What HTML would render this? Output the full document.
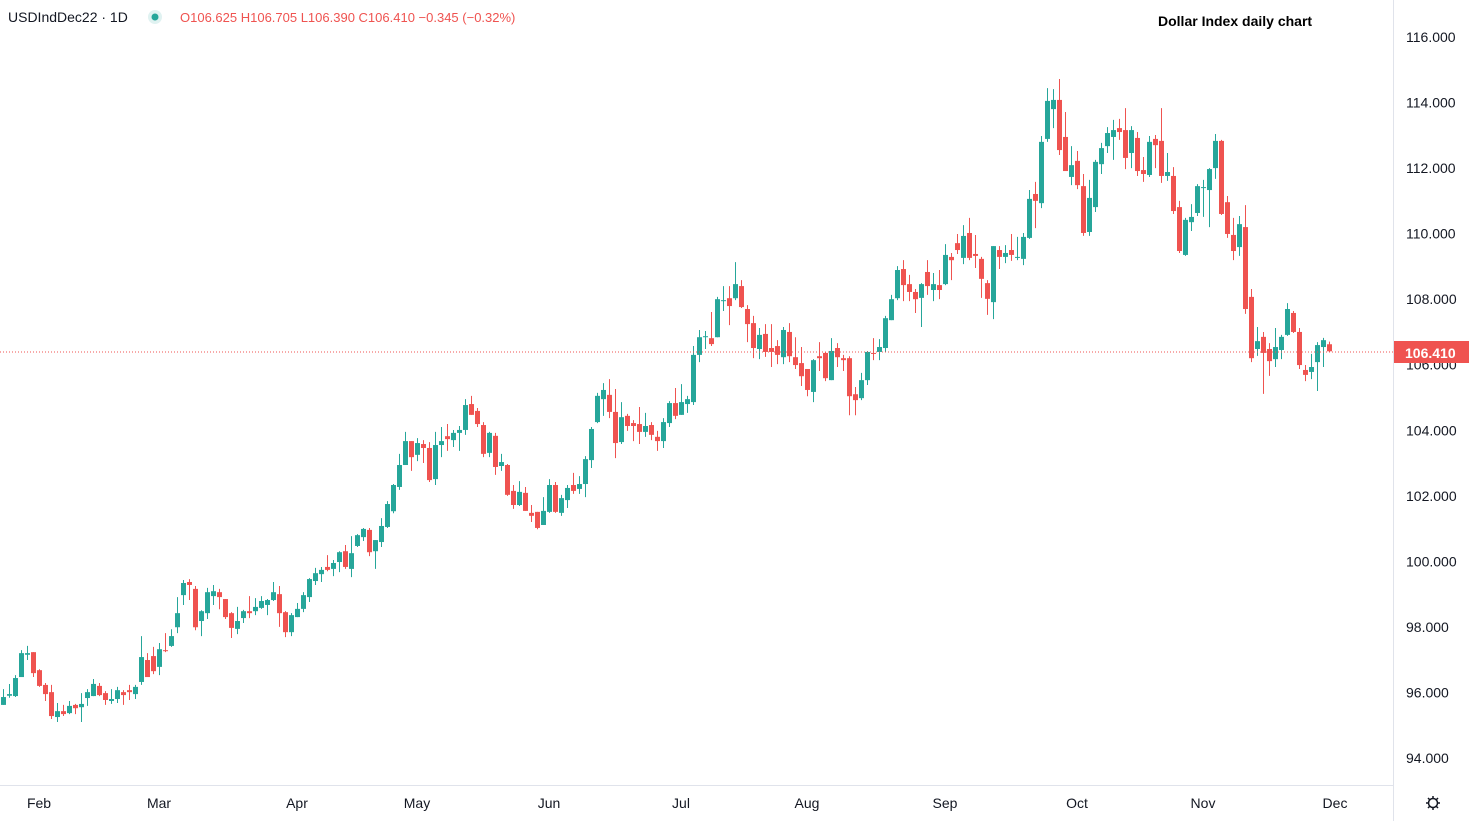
<!DOCTYPE html>
<html><head><meta charset="utf-8"><style>
html,body{margin:0;padding:0;background:#fff;width:1469px;height:821px;overflow:hidden;font-family:"Liberation Sans",sans-serif}
svg{display:block}
</style></head><body>
<svg id="chart" width="1469" height="821" xmlns="http://www.w3.org/2000/svg">
<rect width="1469" height="821" fill="#fff"/>
<g id="candles"></g>
<line x1="0" y1="352" x2="1393" y2="352" stroke="#ef5350" stroke-dasharray="1,2"/>
<line x1="1393.5" y1="0" x2="1393.5" y2="821" stroke="#e0e3eb"/>
<line x1="0" y1="785.5" x2="1393" y2="785.5" stroke="#e0e3eb"/>
<g id="yaxis"></g>
<g id="xaxis"></g>
<rect x="1394" y="341" width="75" height="22" fill="#ef5350"/>
<text x="1405" y="358" fill="#fff" font-size="14" font-weight="bold">106.410</text>
<text x="8" y="22" fill="#131722" font-size="14">USDIndDec22 · 1D</text>
<circle cx="155" cy="17" r="7" fill="#e0f2f1"/>
<circle cx="155" cy="17" r="3.5" fill="#26a69a"/>
<text x="180" y="22" fill="#ef5350" font-size="13">O106.625 H106.705 L106.390 C106.410 −0.345 (−0.32%)</text>
<text x="1158" y="26" fill="#000" font-size="14" font-weight="bold">Dollar Index daily chart</text>
<g transform="translate(1433,803)">
<circle r="4.5" fill="none" stroke="#131722" stroke-width="1.5"/>
<g stroke="#131722" stroke-width="1.5"><line x1="0" y1="-7" x2="0" y2="-5"/><line x1="0" y1="5" x2="0" y2="7"/><line x1="-7" y1="0" x2="-5" y2="0"/><line x1="5" y1="0" x2="7" y2="0"/><line x1="-5" y1="-5" x2="-3.5" y2="-3.5"/><line x1="3.5" y1="3.5" x2="5" y2="5"/><line x1="-5" y1="5" x2="-3.5" y2="3.5"/><line x1="3.5" y1="-3.5" x2="5" y2="-5"/></g>
</g>
</svg>
<script>
const opens=[95.62,95.90,95.89,96.47,97.15,97.23,96.68,96.23,96.01,95.25,95.43,95.37,95.62,95.55,95.83,95.89,96.20,95.98,95.74,95.80,96.01,96.07,95.95,96.32,96.99,97.11,96.78,97.29,97.42,97.99,98.97,99.37,99.16,98.18,98.42,98.94,99.06,98.85,98.42,97.94,98.27,98.48,98.48,98.58,98.67,98.82,99.00,98.45,97.84,98.30,98.55,98.91,99.40,99.61,99.83,99.77,99.98,100.31,99.77,100.47,100.74,100.96,100.31,100.59,101.05,101.53,102.27,102.94,103.67,103.25,103.58,103.46,102.51,103.55,103.82,103.70,103.92,104.01,104.80,104.59,104.16,103.31,103.83,102.91,102.94,102.15,101.72,102.09,101.48,101.51,101.11,101.51,102.33,101.48,101.87,102.33,102.21,102.36,103.09,104.25,104.95,105.08,104.56,103.64,104.44,104.22,104.19,103.95,104.16,103.80,103.67,104.22,104.83,104.47,104.80,104.86,106.30,106.84,106.81,106.84,107.94,108.03,108.03,108.40,107.70,107.27,106.48,106.94,106.51,106.57,106.23,107.00,106.23,106.05,105.87,105.17,106.26,106.36,105.53,106.51,106.20,106.20,105.10,104.98,105.53,106.36,106.39,106.51,107.36,108.03,108.92,108.46,108.22,108.04,108.83,108.28,108.43,108.46,109.29,109.71,109.26,110.02,109.38,109.23,108.49,107.91,109.50,109.29,109.50,109.26,109.23,109.87,111.21,110.93,112.89,113.80,114.08,112.95,111.73,112.22,111.45,110.05,110.81,112.12,112.67,112.95,113.22,113.16,112.46,112.92,111.94,111.79,112.89,112.83,111.76,111.76,110.81,109.35,110.35,110.63,111.39,111.33,112.00,112.83,110.96,109.96,109.59,110.20,108.07,106.48,106.85,106.48,106.17,106.45,106.91,107.58,107.00,105.84,105.78,106.08,106.54,106.625];
const highs=[96.10,96.26,96.53,97.29,97.42,97.23,96.71,96.29,96.23,95.68,95.62,95.74,95.65,95.98,96.10,96.41,96.29,96.04,96.10,96.17,96.07,96.23,96.23,97.72,97.20,97.39,97.51,97.81,97.93,98.91,99.43,99.46,99.25,98.51,99.19,99.28,99.16,98.85,98.45,98.61,98.52,98.94,98.88,98.94,98.85,99.37,99.25,98.48,98.42,98.73,99.06,99.49,99.80,99.83,100.19,100.04,100.31,100.50,100.77,100.83,101.02,101.02,100.65,101.32,101.84,102.36,103.28,103.95,103.67,103.76,103.70,103.64,103.95,104.10,104.19,104.01,104.13,104.95,105.05,104.68,104.25,103.95,103.92,103.28,102.97,102.33,102.45,102.27,101.72,101.51,101.96,102.51,102.42,102.03,102.33,102.70,102.60,103.21,104.10,105.14,105.44,105.56,105.26,104.86,104.50,104.31,104.71,104.53,104.25,103.98,104.37,104.89,105.29,105.41,105.05,106.57,107.06,107.03,107.61,108.07,108.40,108.40,109.13,108.58,107.82,107.49,107.12,107.24,107.24,106.75,107.15,107.27,106.84,106.54,105.87,106.17,106.69,106.39,106.81,106.66,106.30,106.26,105.32,105.75,106.42,106.81,106.78,107.49,108.13,109.01,109.19,108.74,108.31,108.49,109.19,108.80,108.89,109.68,109.41,109.99,110.26,110.48,109.96,109.29,108.58,109.62,109.62,109.65,109.99,109.90,110.02,111.33,111.58,112.98,114.44,114.41,114.72,113.71,112.67,112.52,111.82,111.64,112.25,112.77,113.25,113.47,113.50,113.83,113.28,113.10,112.34,112.98,113.01,113.83,112.46,112.03,111.00,110.48,110.90,111.51,111.64,112.00,113.04,112.86,111.15,110.48,110.54,110.87,108.31,107.15,107.00,106.66,107.12,106.91,107.88,107.64,107.12,105.99,106.33,106.69,106.82,106.705];
const lows=[95.62,95.84,95.86,96.47,96.99,96.47,96.17,95.74,95.19,95.10,95.28,95.34,95.34,95.10,95.59,95.89,95.89,95.62,95.65,95.68,95.62,95.77,95.80,96.23,96.47,96.56,96.53,97.23,97.39,97.81,98.67,98.82,97.90,97.72,98.24,98.67,98.54,98.24,97.66,97.78,98.12,98.27,98.36,98.55,98.36,98.79,98.00,97.69,97.72,98.30,98.45,98.76,99.28,99.37,99.70,99.55,99.67,99.77,99.52,100.44,100.62,100.16,99.77,100.44,101.02,101.47,102.18,102.94,102.76,103.06,103.00,102.42,102.33,103.18,103.37,103.49,103.37,103.86,104.47,104.10,103.18,103.18,102.64,102.76,102.00,101.60,101.69,101.54,101.20,100.98,101.11,101.48,101.48,101.39,101.63,102.06,102.06,101.96,102.85,104.22,104.44,104.37,103.15,103.58,103.98,103.67,103.58,103.80,103.70,103.37,103.46,104.10,104.34,104.47,104.53,104.77,106.08,106.48,106.57,106.84,107.64,107.21,107.97,107.73,106.69,106.20,106.17,106.24,105.93,106.02,106.02,106.08,105.87,105.35,105.04,104.86,105.81,105.50,105.53,105.93,105.81,104.46,104.46,104.92,105.38,106.14,106.14,106.39,107.36,107.97,107.94,107.94,107.58,107.15,108.13,107.94,108.00,108.43,108.58,109.38,109.07,109.19,108.95,108.04,107.52,107.39,108.92,109.10,109.17,109.19,109.04,109.84,110.17,110.78,112.80,113.22,112.40,111.91,111.48,111.36,109.93,109.93,110.66,111.82,112.46,112.25,112.86,111.97,112.00,111.76,111.58,111.73,112.00,111.55,111.61,110.60,109.41,109.32,110.08,110.54,110.51,110.20,111.67,110.57,109.87,109.19,109.32,107.55,106.08,106.27,105.11,105.66,105.93,106.17,106.88,106.97,105.87,105.50,105.56,105.20,105.93,106.390];
const closes=[95.86,95.95,96.44,97.20,97.20,96.59,96.20,95.95,95.28,95.43,95.34,95.59,95.52,95.65,96.01,96.26,95.92,95.77,95.80,96.07,95.92,96.01,96.17,97.08,96.47,96.65,97.32,97.26,97.72,98.42,99.34,99.28,97.99,98.48,99.06,99.09,98.91,98.30,97.97,98.18,98.48,98.42,98.61,98.79,98.82,99.06,98.42,97.84,98.36,98.55,98.97,99.46,99.64,99.74,99.74,99.95,100.28,99.83,100.25,100.80,100.99,100.28,100.65,101.08,101.75,102.33,102.94,103.67,103.18,103.61,103.46,102.48,103.55,103.67,103.73,103.92,104.01,104.77,104.47,104.19,103.28,103.92,102.88,103.03,102.03,101.72,102.12,101.54,101.39,101.02,101.54,102.33,101.51,101.93,102.24,102.15,102.36,103.12,104.04,105.05,105.23,104.56,103.61,104.40,104.13,104.13,103.95,104.13,103.86,103.67,104.25,104.83,104.44,104.86,104.95,106.30,106.84,106.87,106.63,108.00,107.97,107.79,108.46,107.76,107.24,106.51,106.91,106.39,106.39,106.30,107.06,106.26,105.99,105.65,105.23,106.14,106.20,105.59,106.42,106.23,106.14,105.04,104.92,105.53,106.39,106.33,106.54,107.42,108.00,108.89,108.43,108.22,108.00,108.46,108.40,108.46,108.28,109.35,109.19,109.50,109.93,109.26,109.32,108.62,108.01,109.62,109.29,109.41,109.35,109.29,109.90,111.06,111.00,112.80,114.05,114.08,112.55,111.91,112.09,111.48,110.02,111.09,112.19,112.61,113.07,113.16,113.10,112.31,113.16,111.91,111.82,112.80,112.70,111.76,111.88,110.69,109.47,110.42,110.51,111.45,111.42,111.97,112.83,110.60,109.99,109.47,110.29,107.70,106.20,106.72,106.36,106.11,106.54,106.85,107.70,107.00,105.99,105.69,105.93,106.60,106.75,106.410];
const priceTicks=[94,96,98,100,102,104,106,108,110,112,114,116];
const monthLabels=["Feb","Mar","Apr","May","Jun","Jul","Aug","Sep","Oct","Nov","Dec"];
const monthIndex=[6,26,49,69,91,113,134,157,179,200,222];

const NS="http://www.w3.org/2000/svg";
function yOf(v){return 37+(116-v)*32.773;}
function xOf(i){return 3+6*i;}
const cg=document.getElementById('candles');
for(let i=0;i<closes.length;i++){
  const up=closes[i]>=opens[i];
  const col=up?'#26a69a':'#ef5350';
  const x=xOf(i);
  const w=document.createElementNS(NS,'line');
  w.setAttribute('x1',x+0.5);w.setAttribute('x2',x+0.5);
  w.setAttribute('y1',yOf(highs[i]));w.setAttribute('y2',yOf(lows[i]));
  w.setAttribute('stroke',col);w.setAttribute('stroke-width','1');
  
  
  cg.appendChild(w);
  const b=document.createElementNS(NS,'rect');
  const t=yOf(Math.max(opens[i],closes[i])),bt=yOf(Math.min(opens[i],closes[i]));
  b.setAttribute('x',x-2);b.setAttribute('width',5);
  b.setAttribute('y',t);b.setAttribute('height',Math.max(1,bt-t));
  b.setAttribute('fill',col);
  
  
  cg.appendChild(b);
}
const ya=document.getElementById('yaxis');
priceTicks.forEach(v=>{
  const t=document.createElementNS(NS,'text');
  t.setAttribute('x',1406);t.setAttribute('y',yOf(v)+5);
  t.setAttribute('font-size','14');t.setAttribute('fill','#131722');
  t.textContent=v.toFixed(3);
  
  
  ya.appendChild(t);
});
const xa=document.getElementById('xaxis');
monthLabels.forEach((m,k)=>{
  const t=document.createElementNS(NS,'text');
  t.setAttribute('x',xOf(monthIndex[k]));t.setAttribute('y',808);
  t.setAttribute('font-size','14');t.setAttribute('fill','#131722');
  t.setAttribute('text-anchor','middle');
  t.textContent=m;
  
  
  xa.appendChild(t);
});
</script>
</body></html>
